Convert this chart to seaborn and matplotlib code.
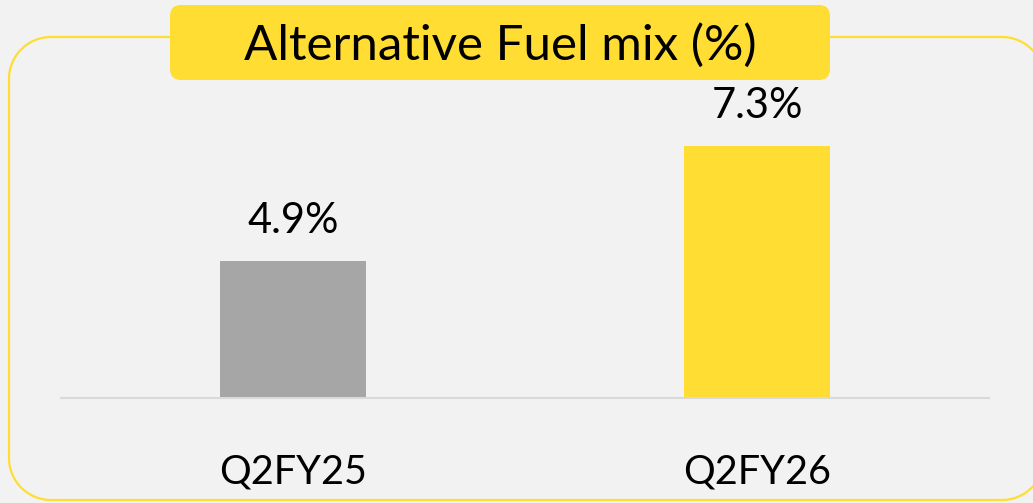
import matplotlib
matplotlib.use("Agg")
import matplotlib.pyplot as plt
import numpy as np
import seaborn as sns
from matplotlib.patches import FancyBboxPatch

categories = ["Q2FY25", "Q2FY26"]
values = [4.9, 7.3]
value_labels = ["4.9%", "7.3%"]
title = "Alternative Fuel mix (%)"

BG = "#f2f2f2"
YEL = "#ffdd33"
GRAY = "#a6a6a6"
FONT = ["Lato", "DejaVu Sans"]

sns.set_theme(style="white")
plt.rcParams["font.family"] = FONT

W, H = 1033, 503
fig = plt.figure(figsize=(W / 100, H / 100), dpi=100, facecolor=BG)

# decoration layer in pixel coordinates
deco = fig.add_axes([0, 0, 1, 1], zorder=0)
deco.axis("off")
deco.patch.set_alpha(0)


def rounded_outline(x0, x1, y0, y1, r, n=30):
    xs, ys = [], []
    corners = [((x1 - r, y0 + r), 270, 360), ((x1 - r, y1 - r), 0, 90),
               ((x0 + r, y1 - r), 90, 180), ((x0 + r, y0 + r), 180, 270)]
    for (cx, cy), a0, a1 in corners:
        t = np.radians(np.linspace(a0, a1, n))
        xs.extend(cx + r * np.cos(t))
        ys.extend(cy + r * np.sin(t))
    xs.append(xs[0])
    ys.append(ys[0])
    return np.array(xs), np.array(ys)


bx, by = rounded_outline(9, 1044, 37, 500, 42)
deco.plot(bx, by, color=YEL, lw=1.6, solid_capstyle="round", clip_on=False)

r2 = 11
deco.add_patch(FancyBboxPatch((170 + r2, 5 + r2), 830 - 170 - 2 * r2, 80 - 5 - 2 * r2,
                              boxstyle=f"round,pad={r2}", fc=YEL, ec="none", zorder=3))
deco.text(500, 45, title, ha="center", va="center", fontsize=35.5, color="black", zorder=4)
deco.set_xlim(0, W)
deco.set_ylim(H, 0)

# chart axes
ax = fig.add_axes([61 / W, (H - 398) / H, 928 / W, 298 / H], zorder=1)
ax.patch.set_alpha(0)
sns.barplot(x=categories, y=values, hue=categories, palette=[GRAY, YEL],
            width=0.315, legend=False, ax=ax, saturation=1, linewidth=0,
            edgecolor="none")
ax.set_xlim(-0.5, 1.5)
ax.set_ylim(2.04, 8.26)
ax.set_yticks([])
ax.set_xlabel("")
ax.set_ylabel("")
for s in ["top", "left", "right"]:
    ax.spines[s].set_visible(False)
ax.spines["bottom"].set_color("#d9d9d9")
ax.spines["bottom"].set_linewidth(1.5)
ax.tick_params(axis="x", length=0, pad=40, labelsize=28.5, labelcolor="black")
for lab in ax.get_xticklabels():
    lab.set_family(FONT)

for i, (v, t) in enumerate(zip(values, value_labels)):
    ax.annotate(t, (i, v), xytext=(0, 28.5), textcoords="offset points",
                ha="center", va="center", fontsize=30, color="black")

fig.savefig("out.png", dpi=100, facecolor=BG)
